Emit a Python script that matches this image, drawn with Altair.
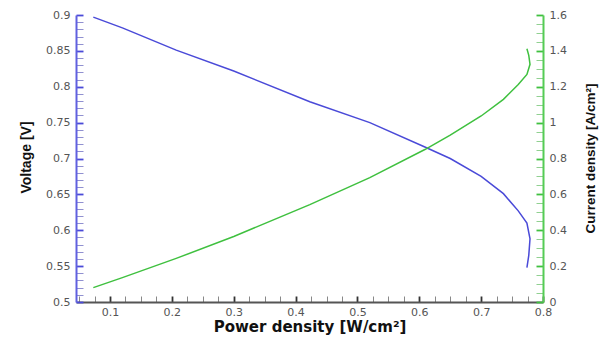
import altair as alt
import pandas as pd

# Data
power = [0.073, 0.12, 0.207, 0.30, 0.423, 0.52, 0.609, 0.65, 0.70, 0.736, 0.760, 0.774, 0.779, 0.777, 0.774]
voltage = [0.897, 0.882, 0.851, 0.822, 0.779, 0.750, 0.716, 0.700, 0.675, 0.651, 0.627, 0.610, 0.588, 0.565, 0.548]
current = [0.080, 0.136, 0.243, 0.365, 0.543, 0.693, 0.850, 0.930, 1.037, 1.130, 1.212, 1.269, 1.325, 1.375, 1.412]

# tick positions (major + minor); majors get labels
x_ticks = [round(0.05 + 0.025 * k, 3) for k in range(31)]
v_ticks = [round(0.5 + 0.01 * k, 2) for k in range(41)]
c_ticks = [round(0.05 * k, 2) for k in range(33)]

W, H = 467, 287
BLUE = "#4a4ad8"
GREEN = "#3fc03f"

df = pd.DataFrame({"i": list(range(len(power))), "p": power, "v": voltage, "c": current})

xs = alt.Scale(domain=[0.045, 0.8], nice=False, zero=False)
vs = alt.Scale(domain=[0.5, 0.9], nice=False, zero=False)
cs = alt.Scale(domain=[0, 1.6], nice=False, zero=False)

X_MAJ = "abs(datum.value*10 - round(datum.value*10)) < 0.01"
V_MAJ = "abs(datum.value*20 - round(datum.value*20)) < 0.01"
C_MAJ = "abs(datum.value*5 - round(datum.value*5)) < 0.01"


def cond(test, a, b):
    return {"condition": {"test": test, "value": a}, "value": b}


common = dict(grid=False, ticks=True, labelFont="DejaVu Sans", labelFontSize=11,
              labelColor="#555555", labelOverlap=False, labelFlush=False, labelBound=False,
              domainWidth=2, titleColor="#111111", titleFontWeight="bold")

x_axis = alt.Axis(values=x_ticks, labelExpr=f"{X_MAJ} ? format(datum.value, '.1~f') : ''",
                  title="Power density [W/cm²]", orient="bottom",
                  tickSize=alt.ExprRef(expr="-6"), tickColor=cond(X_MAJ, "#333333", "#888888"),
                  tickWidth=cond(X_MAJ, 1.8, 1), domainColor="#555555", labelPadding=10,
                  titleFont="DejaVu Sans", titleFontSize=15, titlePadding=2, **common)
v_axis = alt.Axis(values=v_ticks, labelExpr=f"{V_MAJ} ? format(datum.value, '.2~f') : ''",
                  title="Voltage [V]", orient="left",
                  tickSize=alt.ExprRef(expr="-7"), tickColor=cond(V_MAJ, BLUE, "#9090d0"),
                  tickWidth=cond(V_MAJ, 1.8, 1), domainColor="#6060e0", labelPadding=13,
                  titleFont="Liberation Sans", titleFontSize=14, titleX=-50, titleY=142,
                  titleAlign="center", titleBaseline="middle", titleAngle=270, **common)
c_axis = alt.Axis(values=c_ticks, labelExpr=f"{C_MAJ} ? format(datum.value, '.1~f') : ''",
                  title="Current density [A/cm²]", orient="right",
                  tickSize=alt.ExprRef(expr="-7"), tickColor=cond(C_MAJ, GREEN, "#90d090"),
                  tickWidth=cond(C_MAJ, 1.8, 1), domainColor="#55cc55", labelPadding=13,
                  titleFont="Liberation Sans", titleFontSize=13.5, titleX=47, titleY=143,
                  titleAlign="center", titleBaseline="middle", titleAngle=270, **common)

blue = alt.Chart(df).mark_line(color=BLUE, strokeWidth=1.5).encode(
    x=alt.X("p:Q", scale=xs, axis=x_axis),
    y=alt.Y("v:Q", scale=vs, axis=v_axis),
    order="i:Q",
)
green = alt.Chart(df).mark_line(color=GREEN, strokeWidth=1.5).encode(
    x=alt.X("p:Q", scale=xs, axis=None),
    y=alt.Y("c:Q", scale=cs, axis=c_axis),
    order="i:Q",
)

chart = alt.layer(blue, green).resolve_scale(x="independent", y="independent").properties(
    width=W, height=H,
    padding={"left": 68, "top": 7, "right": 60, "bottom": 34},
    autosize=alt.AutoSizeParams(type="none"),
).configure_view(stroke=None)

chart.save("out.html", embed_options={"renderer": "svg", "actions": False})
